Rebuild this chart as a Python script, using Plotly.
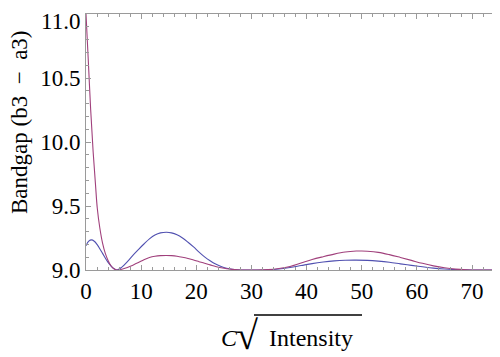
import plotly.graph_objects as go

# values
blue_x = [0, 0.5, 1, 1.5, 2, 3, 4, 5, 5.6, 6.5, 7.5, 8.5, 9.5, 10.5, 11.5, 12.5,
          13.5, 14.6, 15.5, 16.5, 17.5, 18.5, 19.5, 20.5, 21.5, 22.5, 23.5, 24.5,
          25.5, 26.5, 27.5, 29, 31, 33, 35, 37, 39, 41, 43, 45, 47, 49, 51, 53,
          55, 57, 59, 61, 63, 65, 67, 69, 71, 73, 75]
blue_y = [9.19, 9.225, 9.235, 9.225, 9.20, 9.13, 9.06, 9.012, 9.0, 9.022, 9.065,
          9.115, 9.16, 9.203, 9.243, 9.273, 9.29, 9.295, 9.29, 9.275, 9.25, 9.217,
          9.18, 9.14, 9.103, 9.072, 9.046, 9.027, 9.014, 9.006, 9.002, 9.0, 9.0,
          9.002, 9.008, 9.02, 9.035, 9.05, 9.062, 9.071, 9.076, 9.077, 9.075,
          9.069, 9.06, 9.048, 9.036, 9.025, 9.015, 9.008, 9.003, 9.001, 9.0, 9.0, 9.0]

magenta_x = [0, 0.4, 0.85, 1.3, 1.7, 2.05, 2.5, 3, 3.5, 4, 4.5, 5, 5.6, 6.5, 7.5,
             8.5, 9.5, 10.5, 11.5, 12.5, 13.5, 14.6, 15.5, 16.5, 17.5, 18.5, 19.5,
             20.5, 21.5, 22.5, 23.5, 24.5, 25.5, 26.5, 27.5, 29, 31, 33, 35, 37,
             39, 41, 43, 45, 47, 49, 50, 51, 53, 55, 57, 59, 61, 63, 65, 67, 69,
             71, 73, 75]
magenta_y = [11.0, 10.65, 10.25, 9.92, 9.68, 9.48, 9.33, 9.21, 9.13, 9.075, 9.035,
             9.012, 9.0, 9.006, 9.02, 9.038, 9.058, 9.08, 9.097, 9.107, 9.112,
             9.113, 9.112, 9.108, 9.10, 9.09, 9.078, 9.065, 9.052, 9.04, 9.028,
             9.018, 9.01, 9.005, 9.002, 9.0, 9.0, 9.003, 9.012, 9.028, 9.055,
             9.082, 9.104, 9.124, 9.14, 9.148, 9.149, 9.147, 9.138, 9.12, 9.098,
             9.075, 9.052, 9.032, 9.017, 9.007, 9.002, 9.0, 9.0, 9.0]

x_ticks = [0, 10, 20, 30, 40, 50, 60, 70]
y_ticks = [9.0, 9.5, 10.0, 10.5, 11.0]
y_tick_text = ["9.0", "9.5", "10.0", "10.5", ""]  # top label drawn separately
y_top_label = "11.0"

serif = "Liberation Serif"
frame = "#9a9a9a"

# the page body has an 8px margin, so the figure is 8px smaller each way
OFF = 8
W, H = 500 - OFF, 357 - OFF
L, R, T, B = 86 - OFF, 2, 14 - OFF, 87
pw, ph = W - L - R, H - T - B

# window pixel position -> paper fraction
def px(xp):
    return (xp - OFF - L) / pw

def py(yp):
    return (H - B - (yp - OFF)) / ph

fig = go.Figure()
fig.add_trace(go.Scatter(x=blue_x, y=blue_y, mode="lines", line_shape="spline",
                         line=dict(color="#5050b0", width=1.1), hoverinfo="skip"))
fig.add_trace(go.Scatter(x=magenta_x, y=magenta_y, mode="lines", line_shape="spline",
                         line=dict(color="#a0407c", width=1.1), hoverinfo="skip"))

axis_common = dict(showline=True, linecolor=frame, linewidth=1, mirror="ticks",
                   ticks="inside", ticklen=5, tickcolor=frame, tickwidth=1,
                   showgrid=False, zeroline=False, automargin=False,
                   tickfont=dict(family=serif, size=23, color="black"))

fig.update_xaxes(range=[0, 74.7], tickvals=x_ticks,
                 minor=dict(dtick=2, ticks="inside", ticklen=3, tickcolor=frame),
                 **axis_common)
fig.update_yaxes(range=[9.0, 11.0], tickvals=y_ticks, ticktext=y_tick_text,
                 minor=dict(dtick=0.1, ticks="inside", ticklen=3, tickcolor=frame),
                 **axis_common)

# top y label kept inside the page
fig.add_annotation(text=y_top_label, xref="paper", yref="paper",
                   x=px(81), y=py(OFF), xanchor="right", yanchor="top",
                   showarrow=False, borderpad=0,
                   font=dict(family=serif, size=23, color="black"))

# y title
fig.add_annotation(text="Bandgap (b3\u2002\u2212\u2002a3)", xref="paper", yref="paper",
                   x=px(19), y=py(122), xanchor="center", yanchor="middle",
                   textangle=-90, showarrow=False,
                   font=dict(family=serif, size=23, color="black"))

# x title: C sqrt(Intensity)
txt = dict(family=serif, size=24, color="black")
fig.add_annotation(text="<i>C</i>", xref="paper", yref="paper",
                   x=px(229), y=py(338), xanchor="center", yanchor="middle",
                   showarrow=False, font=txt)
fig.add_annotation(text="\u221a", xref="paper", yref="paper",
                   x=px(247), y=py(335), xanchor="center", yanchor="middle",
                   showarrow=False, font=dict(family=serif, size=40, color="black"))
fig.add_annotation(text="Intensity", xref="paper", yref="paper",
                   x=px(311), y=py(338), xanchor="center", yanchor="middle",
                   showarrow=False, font=txt)
fig.add_shape(type="line", xref="paper", yref="paper",
              x0=px(254), x1=px(362), y0=py(315), y1=py(315),
              line=dict(color="black", width=1.3))

fig.update_layout(width=W, height=H, margin=dict(l=L, r=R, t=T, b=B),
                  paper_bgcolor="white", plot_bgcolor="white", showlegend=False)

fig.write_html("out.html")
